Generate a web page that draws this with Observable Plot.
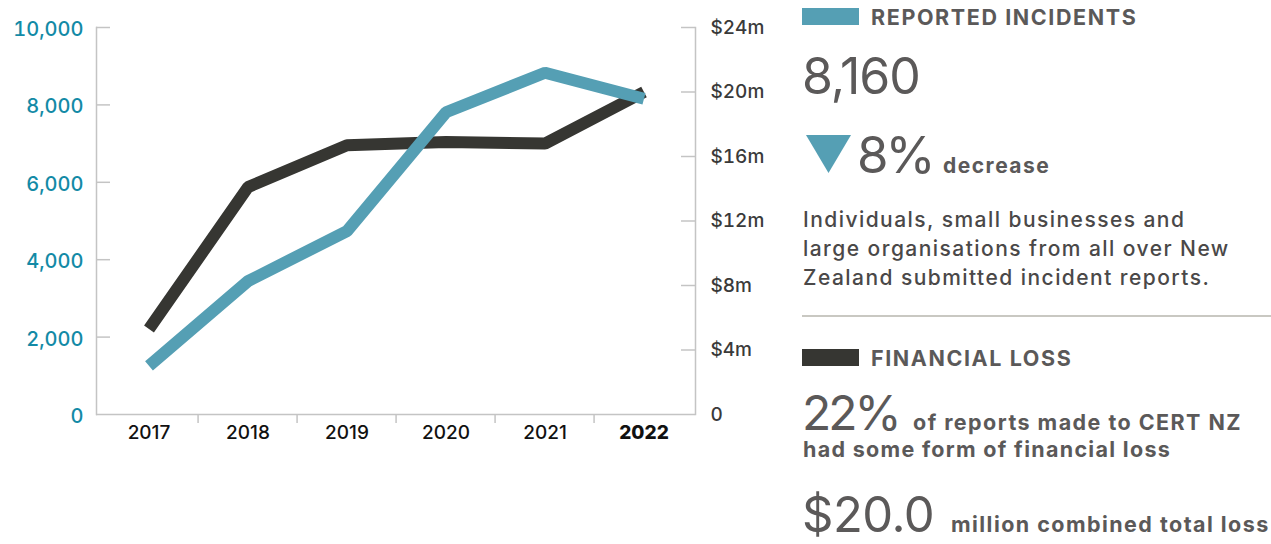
<!DOCTYPE html>
<html><head><meta charset="utf-8">
<script src="https://cdn.jsdelivr.net/npm/d3@7"></script>
<script src="https://cdn.jsdelivr.net/npm/@observablehq/plot@0.6"></script>
<style>
html,body{margin:0;padding:0;background:#fff;}
#wrap{position:relative;width:1271px;height:544px;overflow:hidden;font-family:Inter, sans-serif;}
#chart{position:absolute;left:0;top:0;}
#panel{position:absolute;left:0;top:0;}
</style></head><body>
<div id="wrap"><div id="chart"></div><svg id="panel" width="1271" height="544"></svg></div>
<script>
const years = ["2017", "2018", "2019", "2020", "2021", "2022"];
const incidents = [1256, 3445, 4740, 7809, 8831, 8160];
const lossMillions = [5.3, 14.1, 16.7, 16.9, 16.8, 20.0];
const incidentTicks = [0, 2000, 4000, 6000, 8000, 10000];
const lossTicks = [0, 4, 8, 12, 16, 20, 24];
const reportsWithLossPct = 22;

const blue = "#559fb4", dark = "#363632", teal = "#138aa6", grey = "#5b5959", axisColor = "#c4c4c4";
const W = 790, H = 450, ML = 96, MR = 95, MT = 27, MB = 36;
const frameW = W - ML - MR;
const bw = frameW / years.length;
const k = incidentTicks[incidentTicks.length - 1] / lossTicks[lossTicks.length - 1];
const rows = years.map((year, i) => ({year, incidents: incidents[i], loss: lossMillions[i]}));

const chart = Plot.plot({
  width: W, height: H, marginLeft: ML, marginRight: MR, marginTop: MT, marginBottom: MB,
  style: {fontFamily: "Inter, sans-serif", background: "transparent", overflow: "visible"},
  x: {type: "band", domain: years, padding: 0, axis: null},
  y: {domain: [0, 10000], axis: null},
  marks: [
    Plot.ruleY([0], {stroke: axisColor, strokeWidth: 1.5}),
    Plot.frame({anchor: "left", stroke: axisColor, strokeWidth: 1.5}),
    Plot.frame({anchor: "right", stroke: axisColor, strokeWidth: 1.5}),
    Plot.ruleY(incidentTicks.slice(1), {stroke: axisColor, strokeWidth: 1.5, insetRight: frameW - 14}),
    Plot.ruleY(lossTicks.slice(1), {y: d => d * k, stroke: axisColor, strokeWidth: 1.5, insetLeft: frameW - 14}),
    Plot.ruleX(years.slice(1), {x: d => d, dx: -bw / 2, stroke: axisColor, strokeWidth: 1.5, insetTop: H - MT - MB, insetBottom: -9}),
    Plot.axisY(incidentTicks, {anchor: "left", label: null, tickSize: 0, tickPadding: 13, tickFormat: d3.format(","), fill: teal, fontSize: 20, fontWeight: 500, dy: 2}),
    Plot.axisY(lossTicks.map(d => d * k), {anchor: "right", label: null, tickSize: 0, tickPadding: 15, tickFormat: d => d === 0 ? "0" : `$${Math.round(d / k)}m`, fill: "#3a3a3a", fontSize: 19, fontWeight: 500}),
    Plot.axisX(years.slice(0, 5), {anchor: "bottom", label: null, tickSize: 0, tickPadding: 11, fill: "#111", fontSize: 19, fontWeight: 500}),
    Plot.axisX(years.slice(5), {anchor: "bottom", label: null, tickSize: 0, tickPadding: 11, fill: "#111", fontSize: 19, fontWeight: 800}),
    Plot.line(rows, {x: "year", y: d => d.loss * k, stroke: dark, strokeWidth: 12, strokeLinejoin: "miter", strokeLinecap: "butt"}),
    Plot.line(rows, {x: "year", y: "incidents", stroke: blue, strokeWidth: 12, strokeLinejoin: "miter", strokeLinecap: "butt"})
  ]
});
document.getElementById("chart").appendChild(chart);

// Side panel
const last = incidents.length - 1;
const change = (incidents[last] - incidents[last - 1]) / incidents[last - 1];
const p = d3.select("#panel").style("font-family", "Inter, sans-serif");
function txt(x, y, s, size, weight, fill, ls = 0) {
  return p.append("text").attr("x", x).attr("y", y).attr("font-size", size)
    .attr("font-weight", weight).attr("fill", fill).attr("letter-spacing", ls).text(s);
}
p.append("rect").attr("x", 802).attr("y", 8).attr("width", 57).attr("height", 17).attr("fill", blue);
txt(871, 25, "REPORTED INCIDENTS", 21.5, 700, grey, 1.6);
txt(802, 94, d3.format(",")(incidents[last]), 50, 400, grey, -1);
p.append("path").attr("d", "M806,135L851,135L828.5,173Z").attr("fill", blue);
txt(857, 173, `${Math.round(Math.abs(change) * 100)}%`, 51, 400, grey, -3);
txt(943, 173, change < 0 ? "decrease" : "increase", 21, 700, grey, 1.5);
["Individuals, small businesses and", "large organisations from all over New", "Zealand submitted incident reports."]
  .forEach((s, i) => txt(803, 227 + i * 29, s, 21, 500, "#4a4848", 1.45));
p.append("line").attr("x1", 802).attr("x2", 1271).attr("y1", 316).attr("y2", 316).attr("stroke", "#c9c8c2").attr("stroke-width", 2);
p.append("rect").attr("x", 802).attr("y", 349).attr("width", 57).attr("height", 17).attr("fill", dark);
txt(871, 366, "FINANCIAL LOSS", 21.5, 700, grey, 1.6);
txt(802, 430, `${reportsWithLossPct}%`, 48, 400, grey, -3);
txt(913, 430, "of reports made to CERT NZ", 21.5, 700, grey, 1.45);
txt(803, 457, "had some form of financial loss", 21.5, 700, grey, 1.3);
txt(802, 532, `$${lossMillions[last].toFixed(1)}`, 49, 400, grey, -0.5);
txt(951, 532, "million combined total loss", 21.5, 700, grey, 1.45);
</script>
</body></html>
